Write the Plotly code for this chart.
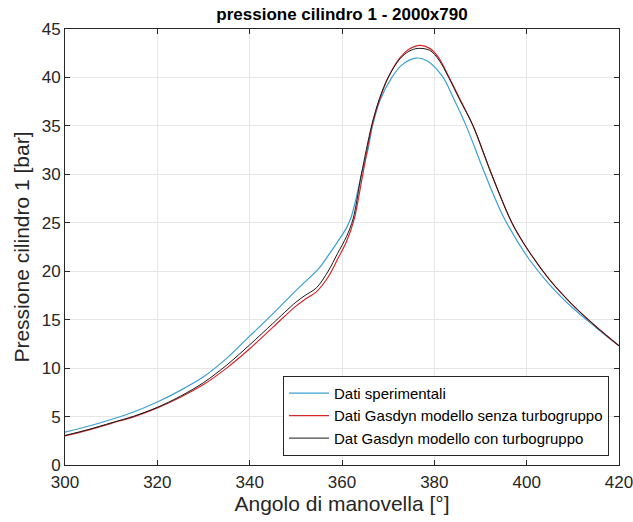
import plotly.graph_objects as go

# Dati sperimentali (blue)
ang_sper = [300, 305, 310, 315, 320, 325, 330, 335, 340, 345, 350, 352, 355, 357, 359,
            361, 362, 363, 364.2, 365.6, 366.6, 368.2, 370.8, 373, 376, 378.5, 381.9, 384,
            386.9, 391, 395, 400, 405, 410, 415, 420]
p_sper = [3.4, 4.0, 4.7, 5.5, 6.5, 7.7, 9.1, 11.0, 13.3, 15.6, 18.0, 18.9, 20.3, 21.6, 23.0,
          24.5, 25.6, 27.4, 30.0, 32.5, 35.0, 37.6, 40.0, 41.3, 42.0, 41.7, 40.0, 38.0,
          35.0, 30.0, 25.6, 21.6, 18.6, 16.2, 14.2, 12.3]

# Dati Gasdyn modello senza turbogruppo (red)
ang_senza = [300, 305, 310, 315, 320, 325, 330, 335, 340, 345, 350, 352, 354.5, 357, 359,
             361, 362.6, 364.5, 366.5, 368.2, 370, 372.5, 374.5, 376.9, 379, 381, 383,
             385.5, 388.4, 392.4, 396.8, 400, 405, 410, 415, 420]
p_senza = [3.0, 3.6, 4.3, 5.0, 5.9, 7.0, 8.3, 10.0, 12.0, 14.2, 16.4, 17.1, 17.9, 19.4, 21.2,
           23.1, 25.3, 30.0, 35.0, 37.8, 40.0, 42.0, 42.9, 43.3, 43.0, 42.0, 40.2,
           37.8, 35.0, 30.0, 25.0, 22.4, 19.1, 16.5, 14.3, 12.3]

# Dat Gasdyn modello con turbogruppo (black)
ang_con = [300, 305, 310, 315, 320, 325, 330, 335, 340, 345, 350, 352, 354.5, 357, 359,
           361, 362.4, 364.2, 366.4, 368.1, 370, 372.5, 374.5, 376.5, 379, 381, 383,
           385.5, 388.4, 392.4, 396.8, 400, 405, 410, 415, 420]
p_con = [3.05, 3.65, 4.35, 5.05, 5.95, 7.1, 8.5, 10.3, 12.4, 14.6, 16.8, 17.5, 18.3, 20.0, 21.8,
         23.6, 25.4, 30.0, 35.0, 37.8, 40.0, 41.9, 42.7, 43.0, 42.8, 41.8, 40.1,
         37.7, 35.0, 30.0, 25.0, 22.4, 19.1, 16.5, 14.3, 12.3]

x_ticks = [300, 320, 340, 360, 380, 400, 420]
y_ticks = [0, 5, 10, 15, 20, 25, 30, 35, 40, 45]

FONT = "Liberation Sans, Arial, sans-serif"

fig = go.Figure()
fig.add_trace(go.Scatter(x=ang_sper, y=p_sper, mode="lines", name="Dati sperimentali",
                         line=dict(color="#3d9fcf", width=1.2, shape="spline", smoothing=0.9)))
fig.add_trace(go.Scatter(x=ang_senza, y=p_senza, mode="lines", name="Dati Gasdyn modello senza turbogruppo",
                         line=dict(color="#d8262b", width=1.2, shape="spline", smoothing=0.9)))
fig.add_trace(go.Scatter(x=ang_con, y=p_con, mode="lines", name="Dat Gasdyn modello con turbogruppo",
                         line=dict(color="#1a1a1a", width=1.0, shape="spline", smoothing=0.9)))

axis_common = dict(
    showgrid=True, gridcolor="#e6e6e6", gridwidth=1,
    showline=True, linecolor="#262626", linewidth=1, mirror="ticks",
    ticks="inside", ticklen=5, tickcolor="#262626",
    zeroline=False, tickfont=dict(family=FONT, size=17, color="#262626"),
    ticklabeloverflow="allow",
)

fig.update_layout(
    width=633, height=522,
    margin=dict(l=65, r=14, t=29, b=57, autoexpand=False),
    paper_bgcolor="white", plot_bgcolor="white",
    title=dict(text="<b>pressione cilindro 1 - 2000x790</b>", x=(65 + 619) / 2 / 633, xanchor="center",
               y=1 - 14 / 522, yanchor="middle",
               font=dict(family=FONT, size=17, color="black")),
    xaxis=dict(range=[300, 420], tickvals=x_ticks, automargin=False, ticklabelstandoff=2,
               title=dict(text="Angolo di manovella [°]", standoff=3,
                          font=dict(family=FONT, size=21, color="#262626")),
               **axis_common),
    yaxis=dict(range=[0, 45], tickvals=y_ticks, automargin=False,
               title=dict(text="Pressione cilindro 1 [bar]", standoff=6,
                          font=dict(family=FONT, size=21, color="#262626")),
               **axis_common),
    legend=dict(x=0.982, xanchor="right", y=0.021, yanchor="bottom",
                bgcolor="white", bordercolor="#262626", borderwidth=1,
                font=dict(family=FONT, size=15, color="black"),
                tracegroupgap=0, itemwidth=40),
    showlegend=True,
)

fig.write_html("out.html", config={"displayModeBar": False},
               post_script="document.body.style.margin='0';")
